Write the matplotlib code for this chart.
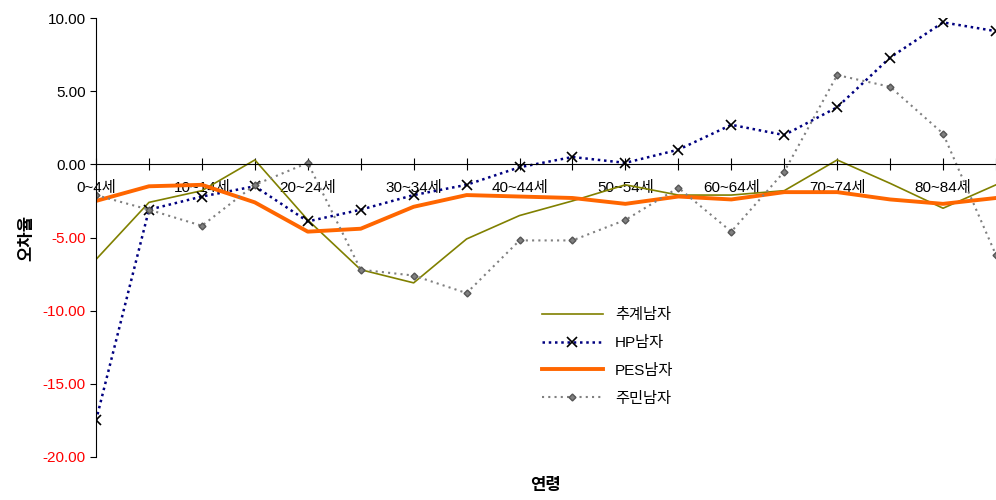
import numpy as np
import matplotlib
matplotlib.use("Agg")
import matplotlib.pyplot as plt

plt.rcParams['font.family'] = ['Liberation Sans', 'Noto Sans CJK KR', 'DejaVu Sans']

ages = ['0~4세', '5~9세', '10~14세', '15~19세', '20~24세', '25~29세', '30~34세', '35~39세',
        '40~44세', '45~49세', '50~54세', '55~59세', '60~64세', '65~69세', '70~74세', '75~79세',
        '80~84세', '85세이상']
est = [-6.5, -2.6, -1.8, 0.3, -3.8, -7.2, -8.1, -5.1, -3.5, -2.5, -1.4, -2.1, -2.1, -1.8,
       0.3, -1.3, -3.0, -1.4]
hp = [-17.5, -3.1, -2.2, -1.5, -3.9, -3.1, -2.1, -1.4, -0.2, 0.5, 0.1, 1.0, 2.7, 2.0,
      3.9, 7.3, 9.7, 9.1]
pes = [-2.5, -1.5, -1.4, -2.6, -4.6, -4.4, -2.9, -2.1, -2.2, -2.3, -2.7, -2.2, -2.4, -1.9,
       -1.9, -2.4, -2.7, -2.3]
res = [-2.1, -3.1, -4.2, -1.4, 0.1, -7.2, -7.6, -8.8, -5.2, -5.2, -3.8, -1.6, -4.6, -0.5,
       6.1, 5.3, 2.1, -6.2]

x = np.arange(len(ages))
fig = plt.figure(figsize=(9.96, 5), dpi=100)
ax = fig.add_axes([0.0964, 0.086, 0.9036, 0.878])

ax.plot(x, est, color='#808000', lw=1.2, label='추계남자')
ax.plot(x, hp, color='#000080', lw=1.8, ls=(0, (1, 1.5)), marker='x', ms=7, mew=1.2,
        mec='black', label='HP남자')
ax.plot(x, pes, color='#ff6600', lw=2.8, label='PES남자')
ax.plot(x, res, color='#808080', lw=1.5, ls=(0, (1, 2)), marker='D', ms=3.5,
        mfc='#808080', mec='#555555', label='주민남자')

ax.set_xlim(0, len(ages) - 1)
ax.set_ylim(-20, 10)
ax.set_yticks(np.arange(-20, 10.1, 5))
ax.set_yticklabels([f'{v:.2f}' for v in np.arange(-20, 10.1, 5)], fontsize=11)
for lab, v in zip(ax.get_yticklabels(), np.arange(-20, 10.1, 5)):
    lab.set_color('red' if v < 0 else 'black')

ax.spines['top'].set_visible(False)
ax.spines['right'].set_visible(False)
ax.spines['bottom'].set_position(('data', 0))
ax.set_xticks(x)
ax.set_xticklabels([a if i % 2 == 0 else '' for i, a in enumerate(ages)], fontsize=11)
ax.tick_params(axis='x', direction='inout', length=8, pad=8)
ax.tick_params(axis='y', direction='out', length=4)

ax.set_ylabel('오차율', fontsize=12, fontweight='bold', labelpad=6)
fig.text(0.548, 0.02, '연령', fontsize=12, fontweight='bold', ha='center')

ax.legend(loc='upper left', bbox_to_anchor=(0.48, 0.37), frameon=False, fontsize=11,
          handlelength=4, labelspacing=0.9)

fig.savefig('out.png', dpi=100)
